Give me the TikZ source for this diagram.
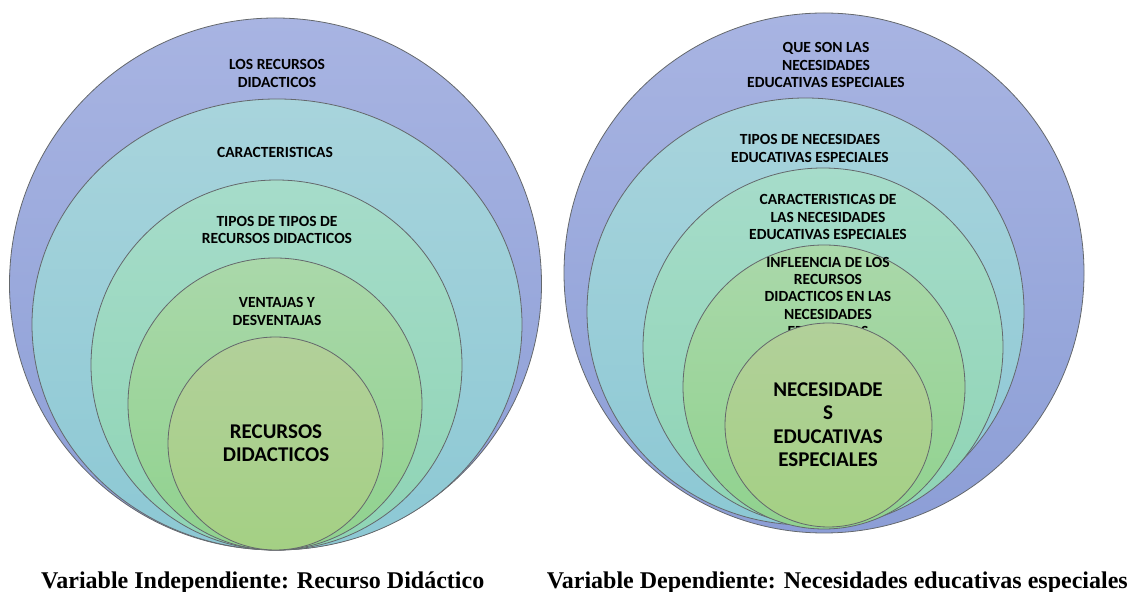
\documentclass[tikz,border=0pt]{standalone}
\usepackage{fontspec}
\setmainfont{Liberation Serif}
\newfontfamily\calfont{Carlito}
\usetikzlibrary{shapes.geometric}
\definecolor{aT}{RGB}{168,180,226}\definecolor{aB}{RGB}{140,158,214}
\definecolor{bT}{RGB}{168,212,220}\definecolor{bB}{RGB}{140,200,212}
\definecolor{cT}{RGB}{166,220,202}\definecolor{cB}{RGB}{142,212,180}
\definecolor{dT}{RGB}{170,216,170}\definecolor{dB}{RGB}{144,210,142}
\definecolor{eT}{RGB}{178,208,154}\definecolor{eB}{RGB}{164,208,132}
\definecolor{rim}{RGB}{100,104,108}
\tikzset{
  ring/.style={ellipse, draw=rim, line width=0.8pt, inner sep=0pt},
  ringA/.style={ring, top color=aT, bottom color=aB},
  ringB/.style={ring, top color=bT, bottom color=bB},
  ringC/.style={ring, top color=cT, bottom color=cB},
  ringD/.style={ring, top color=dT, bottom color=dB},
  ringE/.style={ring, top color=eT, bottom color=eB},
  lbl/.style={align=center, inner sep=0pt, font={\calfont\bfseries\fontsize{15.5}{17.3}\selectfont}},
  big/.style={align=center, inner sep=0pt, font={\calfont\bfseries\fontsize{21}{23.5}\selectfont}},
  captext/.style={inner sep=0pt, font={\bfseries\fontsize{24}{27}\selectfont}}
}
\begin{document}
\begin{tikzpicture}[x=1pt,y=1pt]
\useasboundingbox (0,0) rectangle (1131,591);
% left diagram
\node[ringA, minimum width=532, minimum height=532] (l1) at (275.5,307) {};
\node[lbl] (lt1) at (277,517.5) {LOS RECURSOS\\DIDACTICOS};
\node[ringB, minimum width=490, minimum height=451] (l2) at (277,266.5) {};
\node[lbl] (lt2) at (275,439) {CARACTERISTICAS};
\node[ringC, minimum width=371, minimum height=370] (l3) at (276.5,226) {};
\node[lbl] (lt3) at (277,361) {TIPOS DE TIPOS DE\\RECURSOS DIDACTICOS};
\node[ringD, minimum width=294, minimum height=292] (l4) at (275,187) {};
\node[lbl] (lt4) at (277,279.5) {VENTAJAS Y\\DESVENTAJAS};
\node[ringE, minimum width=215, minimum height=213] (l5) at (275.5,147.5) {};
\node[big] (lt5) at (276,148) {RECURSOS\\DIDACTICOS};
% right diagram
\node[ringA, minimum width=520, minimum height=520] (r1) at (824,318) {};
\node[lbl] (rt1) at (826,526) {QUE SON LAS\\NECESIDADES\\EDUCATIVAS ESPECIALES};
\node[ringB, minimum width=437, minimum height=427] (r2) at (805.5,279.5) {};
\node[lbl] (rt2) at (810,442.5) {TIPOS DE NECESIDAES\\EDUCATIVAS ESPECIALES};
\node[ringC, minimum width=360, minimum height=358] (r3) at (823,244) {};
\node[lbl] (rt3) at (828,374) {CARACTERISTICAS DE\\LAS NECESIDADES\\EDUCATIVAS ESPECIALES};
\node[ringD, minimum width=282, minimum height=284] (r4) at (824,204) {};
\node[lbl, anchor=north] (rt4) at (828,334) {INFLEENCIA DE LOS\\RECURSOS\\DIDACTICOS EN LAS\\NECESIDADES\\EDUCATIVAS\\ESPECIALES};
\node[ringE, minimum width=207, minimum height=204] (r5) at (828.5,166) {};
\node[big] (rt5) at (828,166.5) {NECESIDADE\\S\\EDUCATIVAS\\ESPECIALES};
% captions
\node[captext, anchor=base west] (c1) at (41,3) {Variable Independiente: Recurso Didáctico};
\node[captext, anchor=base east] (c2) at (1128,3) {Variable Dependiente: Necesidades educativas especiales};
\end{tikzpicture}
\end{document}
